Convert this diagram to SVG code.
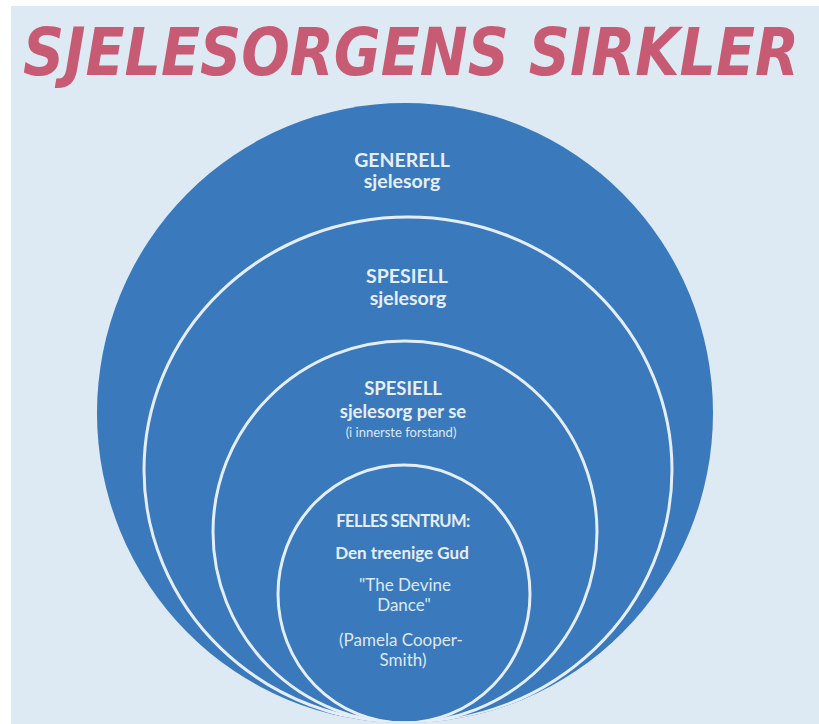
<svg xmlns="http://www.w3.org/2000/svg" width="819" height="724" viewBox="0 0 819 724">
<defs>
<style>
.title{font-family:"DejaVu Sans","Liberation Sans",sans-serif;font-weight:bold;font-style:italic;font-size:57px;fill:#c85b74}
.ring{fill:none;stroke:#e4eef8;stroke-width:3}
.b{font-family:Lato,"Open Sans","Liberation Sans",sans-serif;font-weight:bold;fill:#e6eef8;text-anchor:middle}
.r{font-family:Lato,"Open Sans","Liberation Sans",sans-serif;font-weight:normal;fill:#dde8f4;text-anchor:middle}
</style>
<clipPath id="outerClip"><ellipse cx="405" cy="413" rx="308" ry="310"/></clipPath>
</defs>
<rect x="0" y="0" width="819" height="724" fill="#ffffff"/>
<rect x="11" y="6" width="808" height="718" fill="#dde9f3"/>
<g id="title" transform="translate(411,75) scale(1,1.17)">
<text class="title" x="0" y="0" text-anchor="middle" textLength="776" lengthAdjust="spacingAndGlyphs">SJELESORGENS SIRKLER</text>
</g>
<g id="circle-generell">
<ellipse cx="405" cy="413" rx="308" ry="310" fill="#3a79bb"/>
<text class="b" x="402" y="167" font-size="19.5">GENERELL</text>
<text class="b" x="402" y="188" font-size="19.5">sjelesorg</text>
</g>
<g clip-path="url(#outerClip)">
<g id="circle-spesiell">
<ellipse class="ring" cx="408" cy="470" rx="264" ry="253"/>
<text class="b" x="407" y="283" font-size="19.5">SPESIELL</text>
<text class="b" x="408" y="305" font-size="19.5">sjelesorg</text>
</g>
<g id="circle-per-se">
<ellipse class="ring" cx="405" cy="532" rx="192" ry="191"/>
<text class="b" x="403" y="395" font-size="18.5">SPESIELL</text>
<text class="b" x="403" y="418" font-size="18.5">sjelesorg per se</text>
<text class="r" x="401" y="437" font-size="13">(i innerste forstand)</text>
</g>
<g id="circle-sentrum">
<ellipse class="ring" cx="404" cy="594" rx="126" ry="129"/>
<text class="b" x="403" y="527" font-size="16.5" letter-spacing="-0.6">FELLES SENTRUM:</text>
<text class="b" x="402" y="559" font-size="17">Den treenige Gud</text>
<text class="r" x="405" y="591" font-size="17">"The Devine</text>
<text class="r" x="404" y="611" font-size="17">Dance"</text>
<text class="r" x="401" y="646" font-size="17">(Pamela Cooper-</text>
<text class="r" x="403" y="666" font-size="17">Smith)</text>
</g>
</g>
<g id="connectors"/>
</svg>
